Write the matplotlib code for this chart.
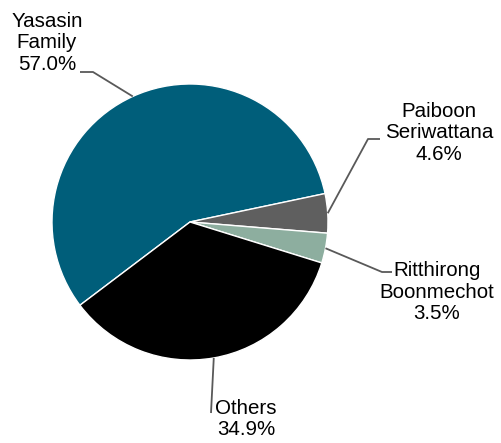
import numpy as np
import matplotlib
matplotlib.use('Agg')
import matplotlib.pyplot as plt

plt.rcParams['font.family'] = ['Liberation Sans', 'DejaVu Sans']

# data
names = ['Yasasin\nFamily', 'Paiboon\nSeriwattana', 'Ritthirong\nBoonmechot', 'Others']
shares = [57.0, 4.6, 3.5, 34.9]
colors = ['#005E7A', '#5F5F5F', '#8DAE9F', '#000000']

# layout (pixel positions of label blocks and leader elbows)
W, H = 502, 443
cx, cy, R = 190, 222, 138
text_pos = [(47, 43), (439, 133), (437, 292), (246, 419)]
elbow = [(93, 72), (368, 139), (382, 272), (211, 413)]
tail = [(80, 72), (380, 139), (392, 272), (211, 413)]

def px(x, y):
  return ((x - cx) / R, (cy - y) / R)

fig = plt.figure(figsize=(W / 100, H / 100), dpi=100)
ax = fig.add_axes([0, 0, 1, 1])
wedges, _ = ax.pie(shares, colors=colors, startangle=217.1, counterclock=False,
                   radius=1, wedgeprops=dict(edgecolor='white', linewidth=1))
ax.set_xlim(px(0, 0)[0], px(W, 0)[0])
ax.set_ylim(px(0, H)[1], px(0, 0)[1])
ax.set_aspect('equal')
ax.axis('off')

for i, w in enumerate(wedges):
  mid = np.deg2rad((w.theta1 + w.theta2) / 2)
  x0, y0 = np.cos(mid), np.sin(mid)
  ex, ey = px(*elbow[i])
  tx, ty = px(*tail[i])
  ax.plot([x0, ex, tx], [y0, ey, ty], color='#595959', lw=1.3,
          solid_capstyle='butt', zorder=3)
  lx, ly = px(*text_pos[i])
  ax.text(lx, ly, '%s\n%.1f%%' % (names[i], shares[i]), ha='center', va='center',
          fontsize=14.8, linespacing=1.15, color='#000000')

fig.savefig('out.png', dpi=100)
